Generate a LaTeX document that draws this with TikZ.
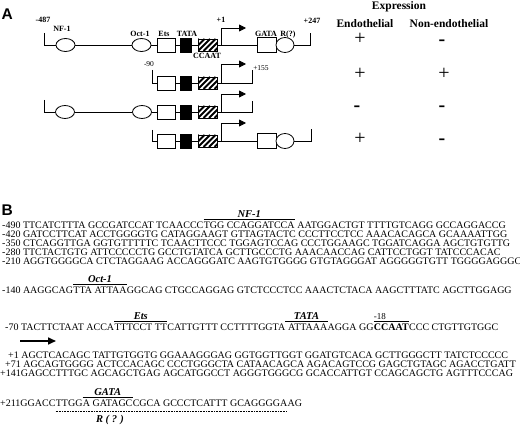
\documentclass[tikz,border=0pt]{standalone}
\usepackage{fontspec}
\setmainfont{Liberation Serif}
\newfontfamily\panelfont{Liberation Sans}
\usetikzlibrary{positioning,shapes.geometric,arrows.meta}

\begin{document}
\begin{tikzpicture}[x=1pt, y=-1pt,
    every node/.style={inner sep=0pt},
    gene/.style={line width=0.8pt},
    site/.style={ellipse, draw, fill=white, line width=0.8pt, minimum width=19pt, minimum height=13pt},
    rsite/.style={site, minimum width=18pt, minimum height=15pt},
    etsbox/.style={rectangle, draw, fill=white, line width=0.8pt, minimum width=18pt, minimum height=14pt},
    gatabox/.style={etsbox, minimum width=19pt, minimum height=15pt},
    tatabox/.style={rectangle, draw, fill=black, line width=0.8pt, minimum width=11pt, minimum height=14pt},
    ccaatbox/.style={rectangle, draw, line width=0.8pt, minimum width=19pt, minimum height=12pt,
        path picture={\foreach \k in {-2,...,3}
            \draw[line width=2pt] ([xshift=\k*5.5pt]path picture bounding box.south west) -- ++(12pt,12pt);}},
    tss/.style={gene, -{Triangle[length=7pt, width=7pt]}},
    elab/.style={font=\fontsize{8}{8}\selectfont\bfseries, anchor=base},
    poslab/.style={font=\fontsize{7.5}{8}\selectfont, anchor=base},
    colhead/.style={font=\fontsize{11.5}{12}\selectfont\bfseries, anchor=base},
    plusmark/.style={font=\fontsize{20}{20}\selectfont, anchor=mid},
    minusmark/.style={font=\fontsize{20}{20}\selectfont\bfseries, anchor=mid},
    panel/.style={font=\fontsize{15.5}{16}\panelfont\bfseries, anchor=base west},
    seq/.style={font=\fontsize{10}{10}\selectfont, anchor=base west},
    motif/.style={font=\fontsize{10.5}{11}\selectfont\bfseries\itshape, anchor=base},
    ovl/.style={line width=0.8pt},
    dotline/.style={line width=0.7pt, dash pattern=on 0.8pt off 0.8pt}
]
\useasboundingbox (0,0) rectangle (520,425);

% ---------- panel A ----------
\node[panel] (lblA) at (1.5,19.5) {A};

% full construct -487/+247
\coordinate (r1a) at (44,33);
\coordinate (r1b) at (44,45);
\node[site] (r1nf) at (65.5,45) {};
\node[site] (r1oct) at (141.5,45) {};
\node[etsbox] (r1ets) at (166,45) {};
\node[tatabox] (r1tata) at (186,45) {};
\node[ccaatbox] (r1cc) at (207.5,45) {};
\coordinate (r1tss) at (221,45);
\coordinate (r1arr) at (246,28);
\node[gatabox] (r1gata) at (266.5,45) {};
\node[rsite] (r1r) at (285,45) {};
\coordinate (r1c) at (310,45);
\coordinate (r1d) at (310,33);
\draw[gene] (r1a) -- (r1b) -- (r1nf) -- (r1oct) -- (r1ets) -- (r1tata) -- (r1cc) -- (r1gata);
\draw[gene] (r1r) -- (r1c) -- (r1d);
\draw[tss] (r1tss) |- (r1arr);

\node[elab] (l487) at (43,23) {-487};
\node[elab] (lnf) at (62,32) {NF-1};
\node[elab] (loct) at (140,36.5) {Oct-1};
\node[elab] (lets) at (164,36.5) {Ets};
\node[elab] (ltata) at (187,36.5) {TATA};
\node[elab] (lccaat) at (207,59) {CCAAT};
\node[elab] (lp1) at (221,23) {+1};
\node[elab] (lgata) at (266,36.5) {GATA};
\node[elab] (lr) at (288,36.5) {R(?)};
\node[elab] (l247) at (312,24) {+247};

% -90/+155
\coordinate (r2a) at (152,70);
\coordinate (r2b) at (152,83);
\node[etsbox] (r2ets) at (166,83) {};
\node[tatabox] (r2tata) at (186,83) {};
\node[ccaatbox] (r2cc) at (207.5,83) {};
\coordinate (r2tss) at (221,83);
\coordinate (r2arr) at (246,64);
\coordinate (r2c) at (252,83);
\coordinate (r2d) at (252,70);
\draw[gene] (r2a) -- (r2b) -- (r2ets) -- (r2tata) -- (r2cc) -- (r2c) -- (r2d);
\draw[tss] (r2tss) |- (r2arr);
\node[poslab] (l90) at (149,66.5) {-90};
\node[poslab] (l155) at (261,70.5) {+155};

% -487/+155
\coordinate (r3a) at (44,100);
\coordinate (r3b) at (44,112);
\node[site] (r3nf) at (65,112) {};
\node[site] (r3oct) at (142,112) {};
\node[etsbox] (r3ets) at (166,112) {};
\node[tatabox] (r3tata) at (186,112) {};
\node[ccaatbox] (r3cc) at (207.5,112) {};
\coordinate (r3tss) at (221,112);
\coordinate (r3arr) at (246,94);
\coordinate (r3c) at (252,112);
\coordinate (r3d) at (252,101);
\draw[gene] (r3a) -- (r3b) -- (r3nf) -- (r3oct) -- (r3ets) -- (r3tata) -- (r3cc) -- (r3c) -- (r3d);
\draw[tss] (r3tss) |- (r3arr);

% -90/+247
\coordinate (r4a) at (152,130);
\coordinate (r4b) at (152,141);
\node[etsbox] (r4ets) at (166,141) {};
\node[tatabox] (r4tata) at (186,141) {};
\node[ccaatbox] (r4cc) at (207.5,141) {};
\coordinate (r4tss) at (221,141);
\coordinate (r4arr) at (246,123);
\node[gatabox] (r4gata) at (266.5,141) {};
\node[rsite] (r4r) at (285,141) {};
\coordinate (r4c) at (311,141);
\coordinate (r4d) at (311,129);
\draw[gene] (r4a) -- (r4b) -- (r4ets) -- (r4tata) -- (r4cc) -- (r4gata);
\draw[gene] (r4r) -- (r4c) -- (r4d);
\draw[tss] (r4tss) |- (r4arr);

% expression
\node[colhead] (hexp) at (399,10) {Expression};
\node[colhead] (hendo) at (365,27.5) {Endothelial};
\node[colhead] (hnon) at (449,27.5) {Non-endothelial};
\node[plusmark] (e1) at (360,42) {+};
\node[minusmark] (n1) at (442,43) {-};
\node[plusmark] (e2) at (360,77) {+};
\node[plusmark] (n2) at (444,77) {+};
\node[minusmark] (e3) at (357,109) {-};
\node[minusmark] (n3) at (442,109) {-};
\node[plusmark] (e4) at (360,142) {+};
\node[minusmark] (n4) at (442,142) {-};

% ---------- panel B ----------
\node[panel] (lblB) at (1.5,215.5) {B};

\node[seq] (s490a) at (2,228.5) {-490 TTCATCTTTA GCCGATCCAT TCAACCC};
\node[seq, base right=0pt of s490a] (s490b) {TGG CCAGGATCCA};
\node[seq, base right=0pt of s490b] (s490c) {\ AATGGACTGT TTTTGTCAGG GCCAGGACCG};
\draw[ovl] ([yshift=2pt]s490b.north west) -- ([yshift=2pt]s490b.north east);
\node[motif] (mnf) at ([yshift=4.5pt]s490b.north) {NF-1};

\node[seq] (s420) at (2,237.5) {-420 GATCCTTCAT ACCTGGGGTG CATAGGAAGT GTTAGTACTC CCCTTCCTCC AAACACAGCA GCAAAATTGG};
\node[seq] (s350) at (2,246.5) {-350 CTCAGGTTGA GGTGTTTTTC TCAACTTCCC TGGAGTCCAG CCCTGGAAGC TGGATCAGGA AGCTGTGTTG};
\node[seq] (s280) at (2,255.5) {-280 TTCTACTGTG ATTCCCCCTG GCCTGTATCA GCTTGCCCTG AAACAACCAG CATTCCTGGT TATCCCACAC};
\node[seq] (s210) at (2,264.5) {-210 AGGTGGGGCA CTCTAGGAAG ACCAGGGATC AAGTGTGGGG GTGTAGGGAT AGGGGGTGTT TGGGGAGGGC};

\node[seq] (s140a) at (2,293.5) {-140 AAGGCAG};
\node[seq, base right=0pt of s140a] (s140b) {TTA ATTAA};
\node[seq, base right=0pt of s140b] (s140c) {GGCAG CTGCCAGGAG GTCTCCCTCC AAACTCTACA AAGCTTTATC AGCTTGGAGG};
\draw[ovl] ([yshift=2pt]s140b.north west) -- ([yshift=2pt]s140b.north east);
\node[motif] (moct) at ([yshift=4.5pt]s140b.north) {Oct-1};

\node[seq] (s70a) at (5,330.5) {-70 TACTTCTAAT ACCA};
\node[seq, base right=0pt of s70a] (s70b) {TTTCCT TT};
\node[seq, base right=0pt of s70b] (s70c) {CATTGTTT CCTTTTGGTA};
\node[seq, base right=0pt of s70c] (s70d) {\ ATTAAA};
\node[seq, base right=0pt of s70d] (s70e) {AGGA GG};
\node[seq, base right=0pt of s70e, font=\fontsize{10}{10}\selectfont\bfseries] (s70f) {CCAAT};
\node[seq, base right=0pt of s70f] (s70g) {CCC CTGTTGTGGC};
\draw[ovl] ([yshift=2pt]s70b.north west) -- ([yshift=2pt]s70b.north east);
\node[motif] (mets) at ([yshift=4.5pt]s70b.north) {Ets};
\draw[ovl] ([yshift=2pt]s70d.north west) -- ([yshift=2pt]s70d.north east);
\node[motif] (mtata) at ([yshift=4.5pt]s70d.north) {TATA};
\draw[ovl] ([yshift=2pt]s70f.north west) -- ([yshift=2pt]s70f.north east);
\node[font=\fontsize{9}{9}\selectfont, anchor=base west] (m18) at ([yshift=4.5pt]s70f.north west) {-18};

\coordinate (ar1) at (20,341);
\coordinate (ar2) at (56,341);
\draw[line width=1.6pt, -{Triangle[length=8pt, width=7pt]}] (ar1) -- (ar2);

\node[seq] (s1) at (8,358.5) {+1 AGCTCACAGC TATTGTGGTG GGAAAGGGAG GGTGGTTGGT GGATGTCACA GCTTGGGCTT TATCTCCCCC};
\node[seq] (s71) at (5,367.5) {+71 AGCAGTGGGG ACTCCACAGC CCCTGGGCTA CATAACAGCA AGACAGTCCG GAGCTGTAGC AGACCTGATT};
\node[seq] (s141) at (0,376.5) {+141GAGCCTTTGC AGCAGCTGAG AGCATGGCCT AGGGTGGGCG GCACCATTGT CCAGCAGCTG AGTTTCCCAG};

\node[seq] (s211a) at (0,406.5) {+211GGACC};
\node[seq, base right=0pt of s211a] (s211b) {TTGG};
\node[seq, base right=0pt of s211b] (s211c) {A GATAGC};
\node[seq, base right=0pt of s211c] (s211d) {CGCA GCCCTCATTT GCAGGGGA};
\node[seq, base right=0pt of s211d] (s211e) {AG};
\draw[ovl] ([yshift=2pt]s211c.north west) -- ([yshift=2pt]s211c.north east);
\node[motif] (mgata) at ([yshift=4.5pt]s211c.north) {GATA};
\draw[dotline] ([yshift=-4.5pt]s211b.south west) -- ([yshift=-4.5pt]s211d.south east);
\node[motif] (mr) at (110,422) {R ( ? )};

\end{tikzpicture}
\end{document}
